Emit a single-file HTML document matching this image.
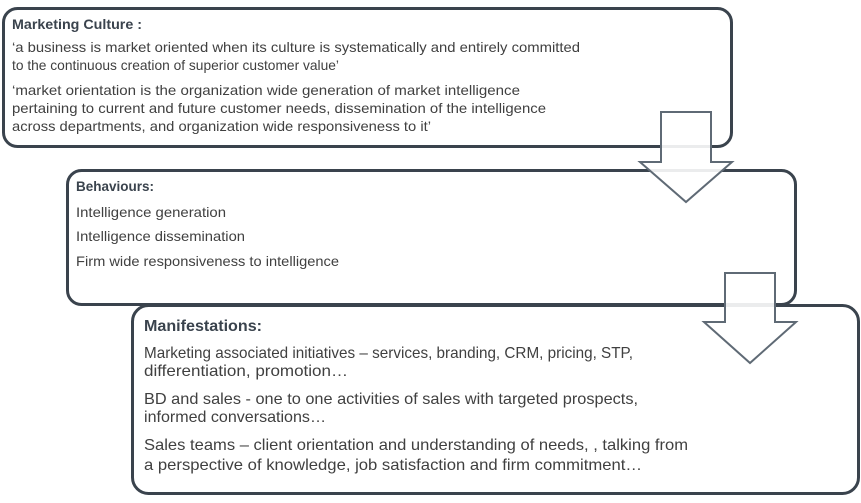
<!DOCTYPE html>
<html><head><meta charset="utf-8"><style>
html,body{margin:0;padding:0;background:#fff;}
svg{display:block;}
text{font-family:"Liberation Sans",sans-serif;fill:#404040;}
.t{font-weight:bold;fill:#3a434d;}
</style></head><body>
<svg width="861" height="503" viewBox="0 0 861 503">
<g fill="#fff" stroke="#3a434d" stroke-width="3">
<rect x="3.5" y="8.5" width="728" height="138" rx="14"/>
<rect x="67.5" y="170.5" width="728" height="134" rx="14"/>
<rect x="132.5" y="305.5" width="726" height="188" rx="16"/>
</g>
<g font-size="14">
<text class="t" x="12" y="29" textLength="130" lengthAdjust="spacingAndGlyphs">Marketing Culture :</text>
<text x="12" y="52" textLength="568" lengthAdjust="spacingAndGlyphs">‘a business is market oriented when its culture is systematically and entirely committed</text>
<text x="12" y="70" textLength="327" lengthAdjust="spacingAndGlyphs">to the continuous creation of superior customer value’</text>
<text x="12" y="95" textLength="508" lengthAdjust="spacingAndGlyphs">‘market orientation is the organization wide generation of market intelligence</text>
<text x="12" y="113" textLength="534" lengthAdjust="spacingAndGlyphs">pertaining to current and future customer needs, dissemination of the intelligence</text>
<text x="12" y="131" textLength="419" lengthAdjust="spacingAndGlyphs">across departments, and organization wide responsiveness to it’</text>
<text class="t" x="76" y="191" textLength="78" lengthAdjust="spacingAndGlyphs">Behaviours:</text>
<text x="76" y="217" textLength="150" lengthAdjust="spacingAndGlyphs">Intelligence generation</text>
<text x="76" y="241" textLength="169" lengthAdjust="spacingAndGlyphs">Intelligence dissemination</text>
<text x="76" y="266" textLength="263" lengthAdjust="spacingAndGlyphs">Firm wide responsiveness to intelligence</text>
</g>
<g font-size="16">
<text class="t" x="144" y="331" textLength="118" lengthAdjust="spacingAndGlyphs">Manifestations:</text>
<text x="144" y="358" textLength="489" lengthAdjust="spacingAndGlyphs">Marketing associated initiatives – services, branding, CRM, pricing, STP,</text>
<text x="144" y="376" textLength="204" lengthAdjust="spacingAndGlyphs">differentiation, promotion…</text>
<text x="144" y="404" textLength="494" lengthAdjust="spacingAndGlyphs">BD and sales - one to one activities of sales with targeted prospects,</text>
<text x="144" y="422" textLength="182" lengthAdjust="spacingAndGlyphs">informed conversations…</text>
<text x="144" y="450" textLength="544" lengthAdjust="spacingAndGlyphs">Sales teams – client orientation and understanding of needs, , talking from</text>
<text x="144" y="470" textLength="498" lengthAdjust="spacingAndGlyphs">a perspective of knowledge, job satisfaction and firm commitment…</text>
</g>
<g fill="#fff" fill-opacity="0.9" stroke="#5f6a75" stroke-width="2" stroke-linejoin="miter">
<polygon points="661,112 711,112 711,162 732,162 686,202 640,162 661,162"/>
<polygon points="725,273 775,273 775,322 796,322 750,363 704,322 725,322"/>
</g>
</svg>
</body></html>
